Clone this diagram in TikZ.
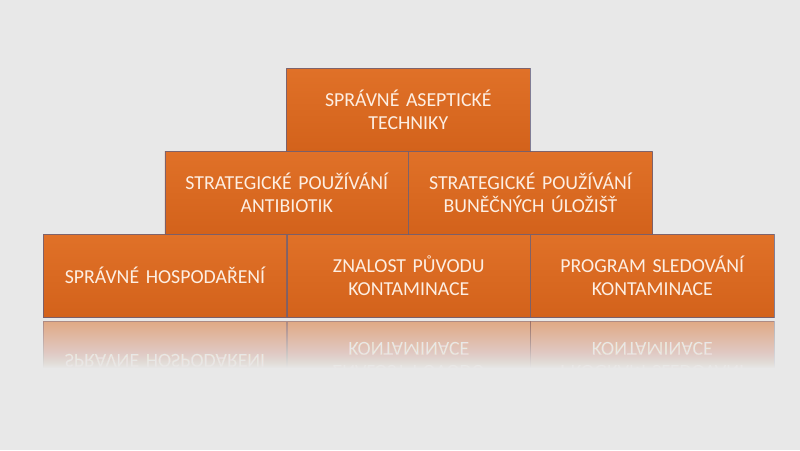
\documentclass[tikz,border=0pt]{standalone}
\usepackage{fontspec}
\setmainfont{Carlito}
\definecolor{bgc}{RGB}{232,232,232}
\definecolor{orT}{RGB}{224,113,40}
\definecolor{orB}{RGB}{211,98,27}
\definecolor{orM}{RGB}{218,106,34}
\definecolor{edge}{RGB}{95,95,130}
\definecolor{txt}{RGB}{253,238,226}
\tikzset{
  brick/.style={draw=edge, draw opacity=0.75, line width=0.8pt, top color=orT, bottom color=orB,
    minimum width=243.7pt, minimum height=83pt, inner sep=0pt,
    text width=236pt, align=center, text=txt,
    font=\fontsize{19.8}{23.3}\selectfont},
  rbrick/.style={draw=edge, draw opacity=0.4, line width=0.8pt, fill=orM, fill opacity=0.5,
    minimum width=243.7pt, minimum height=83pt, inner sep=0pt,
    text width=236pt, align=center, text=white, text opacity=0.8,
    font=\fontsize{19.8}{23.3}\selectfont}
}
\begin{document}
\begin{tikzpicture}[x=1pt,y=-1pt]
\useasboundingbox (0,0) rectangle (800,450);
\fill[bgc] (0,0) rectangle (800,450);
% reflection
\begin{scope}
  \clip (0,318.5) rectangle (800,368);
  \begin{scope}[shift={(0,638)}, yscale=-1, transform shape]
    \node[rbrick] (rbl) at (165,275.5) {SPRÁVNÉ HOSPODAŘENÍ};
    \node[rbrick] (rbm) at (408.8,275.5) {ZNALOST PŮVODU\\KONTAMINACE};
    \node[rbrick] (rbr) at (652.3,275.5) {PROGRAM SLEDOVÁNÍ\\KONTAMINACE};
  \end{scope}
\end{scope}
\foreach \k [evaluate=\k as \op using {1/(49-\k)}] in {1,...,48}{
  \fill[bgc, opacity=\op] (0,320+\k) rectangle (800,375);
}
% pyramid
\node[brick] (bl) at (165,275.5) {SPRÁVNÉ HOSPODAŘENÍ};
\node[brick] (bm) at (408.8,275.5) {ZNALOST PŮVODU\\KONTAMINACE};
\node[brick] (br) at (652.3,275.5) {PROGRAM SLEDOVÁNÍ\\KONTAMINACE};
\node[brick] (ml) at (286.8,192.5) {STRATEGICKÉ POUŽÍVÁNÍ\\ANTIBIOTIK};
\node[brick] (mr) at (530.5,192.5) {STRATEGICKÉ POUŽÍVÁNÍ\\BUNĚČNÝCH ÚLOŽIŠŤ};
\node[brick] (top) at (408.3,109.5) {SPRÁVNÉ ASEPTICKÉ\\TECHNIKY};
\end{tikzpicture}
\end{document}
